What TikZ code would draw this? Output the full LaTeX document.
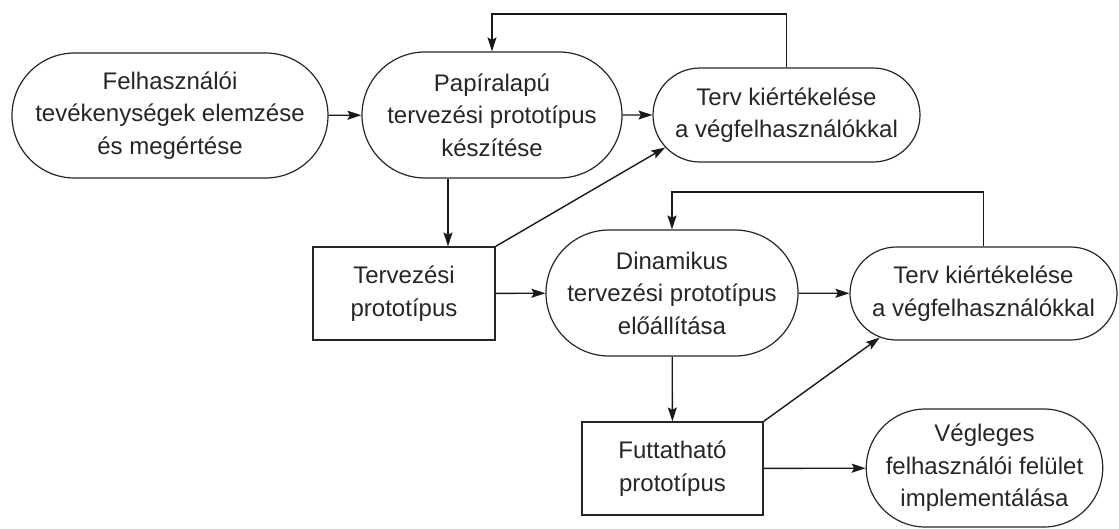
\documentclass[tikz,border=0pt]{standalone}
\usepackage{fontspec}
\setmainfont{Liberation Sans}
\usetikzlibrary{shapes.misc,arrows.meta}
\begin{document}
\begin{tikzpicture}[x=1pt,y=-1pt,
  every node/.style={font=\fontsize{24}{32.5}\selectfont, align=center, inner sep=0pt, line width=1.2pt, draw=black!85, text=black!85},
  stadium/.style={rounded rectangle},
  boxnode/.style={rectangle},
  conn/.style={line width=1.4pt, draw=black!90, -{Stealth[length=14pt,width=9pt,inset=2.5pt]}}]
\useasboundingbox (0,0) rectangle (1119,528);
\node[stadium, minimum width=316pt, minimum height=125pt] (A) at (170,115.5) {Felhasználói\\tevékenységek elemzése\\és megértése};
\node[stadium, minimum width=260pt, minimum height=126pt] (B) at (492,115) {Papíralapú\\tervezési prototípus\\készítése};
\node[stadium, minimum width=267pt, minimum height=94pt] (C) at (786.5,115) {Terv kiértékelése\\a végfelhasználókkal};
\node[boxnode, minimum width=182pt, minimum height=93pt] (T) at (404,293.5) {Tervezési\\prototípus};
\node[stadium, minimum width=252pt, minimum height=126pt] (D) at (672,293) {Dinamikus\\tervezési prototípus\\előállítása};
\node[stadium, minimum width=267pt, minimum height=93pt] (C2) at (983.5,293.5) {Terv kiértékelése\\a végfelhasználókkal};
\node[boxnode, minimum width=181pt, minimum height=93pt] (F) at (672.5,468.5) {Futtatható\\prototípus};
\node[stadium, minimum width=235pt, minimum height=118pt] (V) at (984.5,468) {Végleges\\felhasználói felület\\implementálása};
\coordinate (top1) at (0,14);
\coordinate (top2) at (0,192);
\coordinate (bt) at (448,0);
\draw[conn] (A) -- (B);
\draw[conn] (B) -- (C);
\draw[conn] (bt |- B.south) -- (bt |- T.north);
\draw[conn] (T) -- (D);
\draw[conn] (D) -- (C2);
\draw[conn] (D) -- (F);
\draw[conn] (F) -- (V);
\draw[conn] (T.north east) -- (C.195);
\draw[conn] (F.north east) -- (C2.203);
\draw[conn] (C.north) -- (C.north |- top1) -| (B.north);
\draw[conn] (C2.north) -- (C2.north |- top2) -| (D.north);
\end{tikzpicture}
\end{document}
